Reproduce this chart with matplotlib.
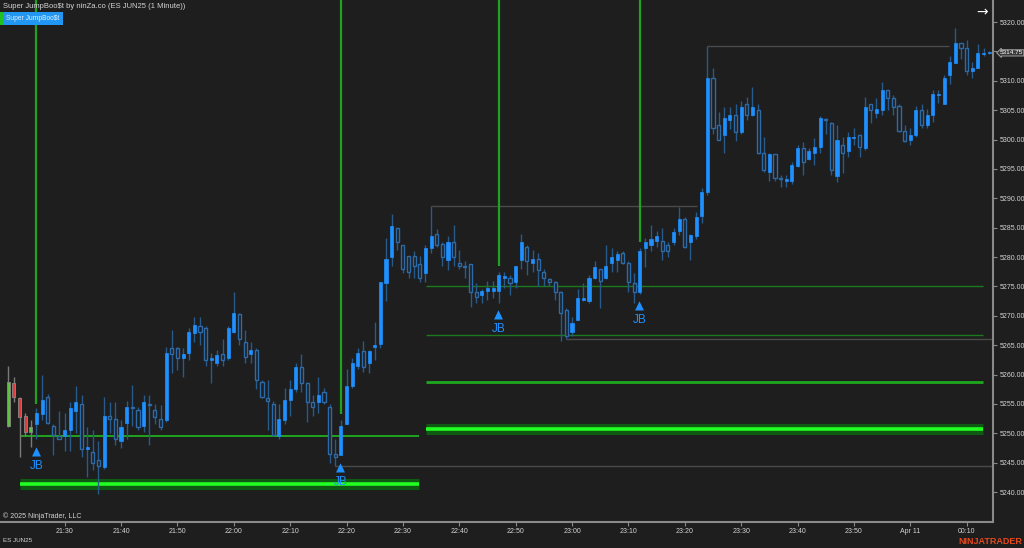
"""NinjaTrader-style 1-minute ES chart with Super JumpBoo$t levels."""

import matplotlib
matplotlib.use("Agg")
import matplotlib.pyplot as plt
from matplotlib.patches import Rectangle
import numpy as np

# --- data: 1-minute bars starting 21:20 -------------------------------------
opens = [
    5251.25, 5258.5, 5256, 5253, 5250.25, 5251.5, 5253.25, 5256.25, 5251.25, 5249.5,
    5249.5, 5250.5, 5253.75, 5255, 5247.25, 5246.75, 5245.5, 5244.25, 5253, 5252.5,
    5248.75, 5251.75, 5254.5, 5254, 5251.25, 5255, 5254, 5252.5, 5252.25, 5264.5,
    5264.5, 5262.75, 5263.75, 5267, 5268.25, 5268, 5262.5, 5262, 5263.5, 5262.75,
    5267.25, 5270.25, 5265.5, 5263.5, 5264.25, 5258.75, 5256, 5255, 5249.5, 5252.25,
    5255.75, 5257.5, 5261.25, 5258.5, 5255.25, 5255.25, 5257, 5254.5, 5246.5, 5246.25,
    5251.5, 5258, 5261.5, 5264, 5262, 5264.75, 5265.25, 5275.5, 5280, 5285,
    5282, 5280.25, 5280.25, 5278.75, 5277.25, 5281.5, 5284, 5282.25, 5279.5, 5282.5,
    5279, 5278.5, 5278.75, 5274, 5273.5, 5274.25, 5274.25, 5274.25, 5276.5, 5276.5,
    5275.75, 5279.5, 5281.75, 5279, 5279.75, 5277.5, 5276.25, 5275.75, 5274, 5271,
    5267.25, 5269.25, 5272.75, 5272.5, 5276.5, 5278, 5276.5, 5279, 5279.5, 5280.75,
    5279, 5275.5, 5274, 5281.5, 5282, 5282.75, 5282.75, 5282, 5282.5, 5284.5,
    5286.5, 5282.5, 5283.5, 5287, 5291, 5310.5, 5302.5, 5300.75, 5303.25, 5304.25,
    5301.25, 5306, 5304.25, 5305, 5297.75, 5294.5, 5297.5, 5293.5, 5293, 5293,
    5295.5, 5298.5, 5296.75, 5297.75, 5298.75, 5303.5, 5302.75, 5293.75, 5299, 5298,
    5300.25, 5300.75, 5298.5, 5306, 5304.5, 5305, 5308.5, 5307, 5305.75, 5301.5,
    5300, 5300.75, 5305, 5302.5, 5304.25, 5307.5, 5306, 5311, 5313, 5316.5,
    5315.5, 5311.75, 5312.25, 5314.5, 5314.75,
]
highs = [
    5261.5, 5259.5, 5256.25, 5253.5, 5252.25, 5254.25, 5260, 5256.75, 5251.5, 5253.75,
    5253.5, 5255.25, 5258, 5256.5, 5251, 5250.5, 5248.75, 5256.25, 5255.25, 5255.25,
    5252.25, 5255.5, 5258.25, 5254.5, 5256.5, 5256.5, 5255, 5254.75, 5264.75, 5267.5,
    5264.75, 5264.5, 5268, 5269.75, 5269.75, 5268.25, 5263.75, 5264.25, 5266, 5268.25,
    5274, 5270.5, 5267.5, 5265.5, 5264.5, 5259, 5259, 5255.5, 5255, 5257.75,
    5259, 5262, 5263.5, 5258.75, 5256.5, 5259.5, 5257.75, 5255, 5249, 5252.25,
    5261, 5262.75, 5264.5, 5265.75, 5264.25, 5269, 5275.75, 5283.25, 5287.25, 5285,
    5282, 5280.25, 5281, 5280.25, 5282, 5288.75, 5284.75, 5282.5, 5283.5, 5285.5,
    5281.25, 5279.25, 5278.75, 5275.5, 5274.5, 5276, 5276, 5277.5, 5277.5, 5277,
    5278.5, 5284, 5282, 5281.25, 5280.75, 5278, 5276.5, 5276, 5274.25, 5271.25,
    5269.75, 5274.5, 5275.5, 5277, 5279.25, 5278, 5282, 5281.5, 5281, 5281,
    5279.25, 5277.25, 5281.5, 5283.25, 5285.5, 5284.5, 5285, 5282.5, 5285, 5288.5,
    5286.75, 5284, 5287.75, 5291.75, 5316, 5312.25, 5304.75, 5305.5, 5305.5, 5306,
    5306.5, 5307.25, 5309, 5306, 5300.5, 5297.75, 5297.5, 5294, 5294, 5296.25,
    5299, 5299.5, 5298.5, 5300.25, 5304, 5303.75, 5303, 5302.5, 5300.5, 5301.25,
    5302, 5301, 5307.25, 5306, 5307, 5309.75, 5308.5, 5307.5, 5306, 5302.5,
    5302, 5305.75, 5306, 5305.25, 5308.5, 5308.5, 5311, 5314.25, 5319, 5316.5,
    5317, 5313.25, 5316.25, 5315.5, 5315,
]
lows = [
    5251, 5255.25, 5246, 5249.5, 5247.75, 5249, 5252.25, 5251.5, 5246.25, 5249,
    5247, 5247, 5250, 5246, 5242.5, 5243.75, 5239.75, 5244, 5250, 5248,
    5247.5, 5249, 5251.25, 5250.5, 5250.25, 5248, 5251.5, 5250.5, 5252, 5260.25,
    5260.75, 5259.5, 5262.5, 5265.5, 5265, 5261.5, 5258.5, 5261.5, 5261.5, 5262.5,
    5267, 5265, 5262, 5262, 5257.5, 5256, 5250.5, 5249.5, 5249, 5251.5,
    5253, 5257, 5257, 5252, 5253, 5253.5, 5255, 5245, 5244.5, 5246.25,
    5251.5, 5257.75, 5261, 5260.5, 5260.25, 5262.5, 5264.5, 5272.5, 5278.5, 5281.25,
    5277.25, 5276.5, 5276.5, 5275.75, 5275.75, 5280.75, 5281.75, 5278.5, 5277.75, 5278.5,
    5278, 5276.5, 5271.5, 5272.25, 5272.25, 5272.75, 5273, 5272.25, 5274.75, 5273.5,
    5274.75, 5278, 5277, 5277.5, 5275, 5275, 5275, 5272.75, 5265.75, 5266,
    5266.5, 5269.25, 5272.5, 5272.25, 5276.25, 5271.25, 5276.25, 5277.5, 5277.5, 5278.75,
    5274, 5272.25, 5273.75, 5278.25, 5281, 5281.75, 5279.5, 5280, 5282, 5283.75,
    5281.5, 5279.5, 5283, 5285.75, 5290.5, 5301, 5300, 5297.75, 5301.75, 5299.75,
    5301, 5303.25, 5304, 5297.5, 5294.5, 5293, 5293, 5292, 5292, 5292.5,
    5295.25, 5294, 5296.5, 5295.75, 5297.75, 5301, 5294, 5292.75, 5294.25, 5297,
    5299, 5297, 5298.25, 5302.75, 5303.75, 5304.25, 5305, 5304.25, 5301.25, 5299.5,
    5299, 5300.5, 5302, 5302, 5303, 5306.25, 5306, 5309.5, 5313, 5313.75,
    5311, 5310.5, 5312.25, 5314.25, 5314.5,
]
closes = [
    5258.75, 5256.25, 5252.75, 5250.25, 5251, 5253.5, 5255.75, 5251.75, 5249.75, 5249,
    5250.5, 5254.25, 5255.25, 5247.25, 5247.75, 5245, 5244.5, 5253, 5252.5, 5249,
    5251, 5254.5, 5254.25, 5251, 5255.25, 5254.75, 5252.75, 5251, 5263.75, 5263.5,
    5262.75, 5263.5, 5267.25, 5268.5, 5267.25, 5262.5, 5262.75, 5263.25, 5262.5, 5268,
    5270.5, 5266, 5263, 5264.25, 5259, 5256.25, 5255.5, 5249.75, 5252.5, 5255.75,
    5257.5, 5261.25, 5258.5, 5255.25, 5254.5, 5256.5, 5255.25, 5246.5, 5246, 5251.25,
    5258, 5262, 5263.75, 5261.25, 5264, 5265, 5275.75, 5279.75, 5285.25, 5282.5,
    5278, 5277.5, 5278.5, 5276.5, 5281.5, 5283.5, 5282, 5280, 5282.5, 5280,
    5278.5, 5278.25, 5274, 5273.25, 5274.25, 5274.75, 5274.75, 5277, 5276.75, 5275.5,
    5278.5, 5282.5, 5279.25, 5279.75, 5277.75, 5276.5, 5275.75, 5274, 5270.5, 5266.5,
    5268.75, 5273, 5273, 5276.5, 5278.25, 5276, 5278.5, 5280, 5280.5, 5279,
    5275.75, 5274, 5281, 5282.5, 5283, 5283.5, 5281, 5281, 5284.25, 5286.5,
    5281.75, 5283.75, 5286.75, 5291, 5310.5, 5302, 5300, 5303.75, 5304.25, 5301.25,
    5305.5, 5304.25, 5305.5, 5297.75, 5294.75, 5297.5, 5293.5, 5293.25, 5293.25, 5295.75,
    5298.5, 5296.25, 5298, 5298.75, 5303.75, 5303.25, 5294.75, 5300, 5297.75, 5300.5,
    5300.5, 5298.75, 5305.5, 5305, 5305.25, 5308.5, 5307, 5305.5, 5301.5, 5299.75,
    5300.75, 5305, 5302.5, 5304.25, 5307.75, 5307.75, 5310.5, 5313.25, 5316.5, 5315.5,
    5311.75, 5312.25, 5314.75, 5314.75, 5314.75,
]
plain_bars = 5                      # bars painted before the indicator kicks in

# JumpBoo$t signals (bar index) and where each signal line stops
signal_bars = [5, 59, 87, 112]
signal_line_ends = [5255.0, 5253.25, 5278.5, 5282.5]

# horizontal levels: (price, first bar, last bar)
thin_levels = [(5249.5, 2.1, 72.9)]
thick_levels = [(5241.4, 2.1, 72.9), (5250.8, 74.1, 172.9)]
mid_levels = [(5258.75, 74.1, 172.9)]
faint_levels = [(5266.75, 74.1, 172.9), (5275.0, 74.1, 172.9)]
gray_levels = [(5244.5, 58, 174.5), (5266.0, 99, 174.5),
               (5288.75, 75, 122.2), (5316.0, 124, 166.9)]

time_ticks = ["21:30", "21:40", "21:50", "22:00", "22:10", "22:20", "22:30",
              "22:40", "22:50", "23:00", "23:10", "23:20", "23:30", "23:40",
              "23:50", "Apr 11", "00:10"]
price_ticks = list(range(5240, 5321, 5))
last_price = 5314.75

# --- style -------------------------------------------------------------------
BG = "#1e1e1e"
BLUE = "#1e90ff"
HOLLOW = "#2d6aa8"
WICK = "#285a8c"
GREEN = "#1fa31f"
AXIS = "#8a8a8a"
TXT = "#d4d4d4"

plt.rcParams["font.family"] = ["Liberation Sans", "DejaVu Sans"]

W, H = 1024, 548
fig = plt.figure(figsize=(W / 100, H / 100), dpi=100, facecolor=BG)
ax = fig.add_axes([0, 26 / H, 993 / W, 522 / H], facecolor=BG)

o = np.array(opens)
h = np.array(highs)
l = np.array(lows)
c = np.array(closes)
body_w = 0.55

# levels behind the candles
for price, x0, x1 in gray_levels:
    ax.hlines(price, x0, x1, color="#4a4a4a", lw=1, zorder=1)
for price, x0, x1 in thick_levels:
    ax.hlines(price, x0, x1, color="#0f5a12", lw=8, zorder=1)
    ax.hlines(price, x0, x1, color="#22ff22", lw=2.6, zorder=1.1)
for price, x0, x1 in thin_levels:
    ax.hlines(price, x0, x1, color=GREEN, lw=1.4, zorder=1)
for price, x0, x1 in mid_levels:
    ax.hlines(price, x0, x1, color="#1ea81e", lw=2, zorder=1)
for price, x0, x1 in faint_levels:
    ax.hlines(price, x0, x1, color="#1c7a1c", lw=1, zorder=1)

# candles
for i in range(len(c)):
    up = c[i] >= o[i]
    lo, hi = min(o[i], c[i]), max(o[i], c[i])
    hgt = max(hi - lo, 0.2)
    if i < plain_bars:
        ax.vlines(i, l[i], h[i], color="#7a7a7a", lw=1, zorder=2)
        ax.add_patch(Rectangle((i - body_w / 2, lo), body_w, hgt,
                               fc="#5cc43c" if up else "#e03a3a",
                               ec="#8a8a8a", lw=0.6, zorder=3))
        continue
    ax.vlines(i, l[i], h[i], color=WICK, lw=1, zorder=2)
    if up:
        ax.add_patch(Rectangle((i - body_w / 2, lo), body_w, hgt,
                               fc=BLUE, ec=BLUE, lw=0.5, zorder=3))
    else:
        ax.add_patch(Rectangle((i - body_w / 2, lo), body_w, hgt,
                               fc=BG, ec=HOLLOW, lw=1, zorder=3))

# signal lines and JB markers
for b, end in zip(signal_bars, signal_line_ends):
    ax.vlines(b, end, 5330, color=GREEN, lw=1.6, zorder=4)
    ax.annotate("\u25B2", xy=(b, l[b]), xytext=(0, -9), textcoords="offset points",
                ha="center", va="center", color=BLUE, fontsize=8.5,
                family="DejaVu Sans", zorder=5)
    ax.annotate("JB", xy=(b, l[b]), xytext=(0, -19), textcoords="offset points",
                ha="center", va="center", color=BLUE, fontsize=8.5, zorder=5)

ax.set_xlim(-1.47, 174.67)
ax.set_ylim(5234.9, 5323.75)

# axes
for side in ["top", "left"]:
    ax.spines[side].set_visible(False)
for side in ["bottom", "right"]:
    ax.spines[side].set_color(AXIS)
    ax.spines[side].set_linewidth(1.5)
ax.yaxis.tick_right()
ax.set_yticks(price_ticks)
# the last-price flag covers the tick label next to it
ax.set_yticklabels(["" if abs(p - last_price) < 2 else f"{p:.2f}" for p in price_ticks])
ax.set_xticks(np.arange(10, 10 * (len(time_ticks) + 1), 10))
ax.set_xticklabels(time_ticks)
ax.tick_params(axis="both", colors=AXIS, labelcolor=TXT, labelsize=5,
               length=3, width=0.8, pad=1.5)

ax.annotate(f"{last_price:.2f}", xy=(1.0, last_price),
            xycoords=ax.get_yaxis_transform(), xytext=(5, 0),
            textcoords="offset points", ha="left", va="center",
            fontsize=4.6, color="white", annotation_clip=False,
            bbox=dict(boxstyle="larrow,pad=0.1", fc="#3a3a3a", ec="#b0b0b0", lw=0.6))

# chrome text
fig.text(3 / W, 1 - 6 / H, "Super JumpBoo\\$t by ninZa.co (ES JUN25 (1 Minute))",
         color=TXT, fontsize=5.5, ha="left", va="center")
fig.patches.append(Rectangle((0, 1 - 25 / H), 3 / W, 13 / H,
                             transform=fig.transFigure, fc="#22c022", ec="none"))
fig.patches.append(Rectangle((3 / W, 1 - 25 / H), 60 / W, 13 / H,
                             transform=fig.transFigure, fc="#2196f3", ec="none"))
fig.text(33 / W, 1 - 18.5 / H, "Super JumpBoo\\$t", color="#e8f2ff", fontsize=4.8,
         ha="center", va="center")
fig.text(982 / W, 1 - 12 / H, "\u2192", color="white", fontsize=10,
         family="DejaVu Sans", ha="center", va="center")
fig.text(3 / W, 1 - 516 / H, "\u00a9 2025 NinjaTrader, LLC", color=TXT,
         fontsize=5, ha="left", va="center")
fig.text(3 / W, 1 - 541 / H, "ES JUN25", color=TXT, fontsize=4.5,
         ha="left", va="center")
fig.text(1022 / W, 1 - 542 / H, "NINJATRADER", color="#e8481c", fontsize=6.5,
         fontweight="bold", ha="right", va="center")

fig.savefig("out.png", dpi=100, facecolor=BG)
